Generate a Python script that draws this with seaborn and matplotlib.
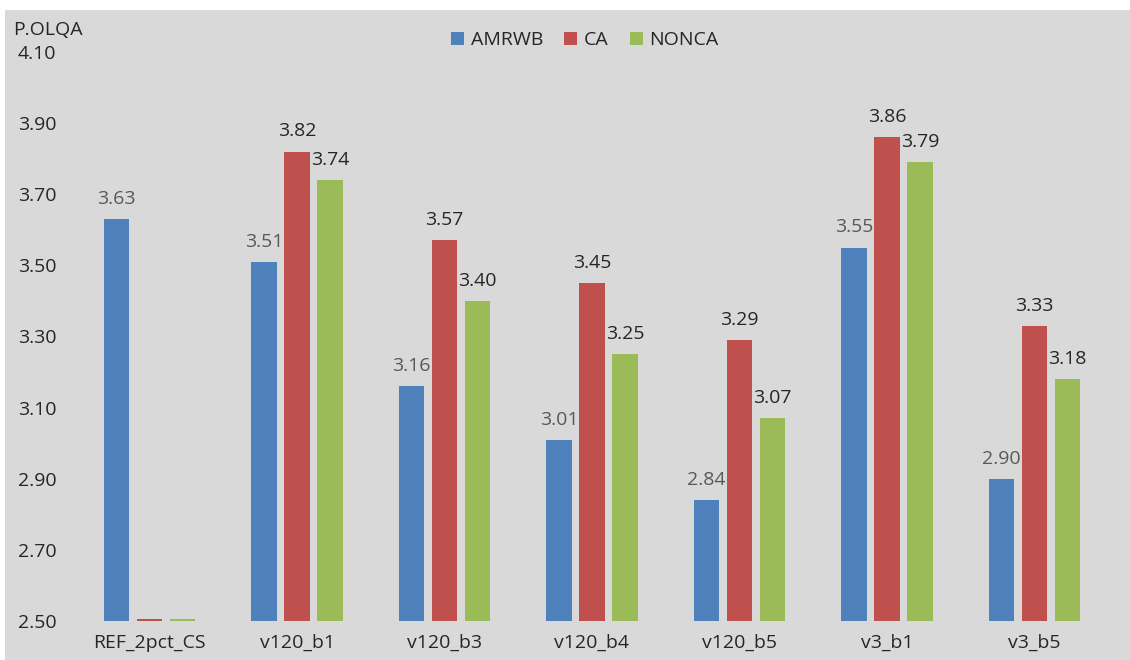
import matplotlib
matplotlib.use("Agg")
import matplotlib.pyplot as plt
import matplotlib.patches as mpatches
import seaborn as sns
import pandas as pd

categories = ["REF_2pct_CS", "v120_b1", "v120_b3", "v120_b4", "v120_b5", "v3_b1", "v3_b5"]
amrwb = [3.63, 3.51, 3.16, 3.01, 2.84, 3.55, 2.90]
ca = [2.505, 3.82, 3.57, 3.45, 3.29, 3.86, 3.33]
nonca = [2.505, 3.74, 3.40, 3.25, 3.07, 3.79, 3.18]
series = ["AMRWB", "CA", "NONCA"]
colors = ["#4F81BD", "#C0504D", "#9BBB59"]
label_colors = ["#595959", "#262626", "#262626"]
yticks = [2.50, 2.70, 2.90, 3.10, 3.30, 3.50, 3.70, 3.90, 4.10]

rows = []
for s, vals in zip(series, [amrwb, ca, nonca]):
    for c, v in zip(categories, vals):
        rows.append({"cat": c, "series": s, "value": v})
df = pd.DataFrame(rows)

sns.set_theme(style="white")
plt.rcParams["font.family"] = ["Open Sans", "DejaVu Sans"]

fig = plt.figure(figsize=(11.3, 6.6), dpi=100)
fig.patch.set_facecolor("white")
bg = mpatches.Rectangle((5 / 1130, 0), 1 - 5 / 1130, 1 - 10 / 660, transform=fig.transFigure,
                        facecolor="#D9D9D9", edgecolor="none", zorder=-10)
fig.patches.append(bg)

ax = fig.add_axes([76 / 1130, 1 - 621 / 660, (1108 - 76) / 1130, (621 - 52) / 660])
ax.set_facecolor("none")

sns.barplot(data=df, x="cat", y="value", hue="series", order=categories, hue_order=series,
            palette=colors, width=0.672, gap=0.23, ax=ax, legend=False,
            saturation=1, errorbar=None, linewidth=0)

ax.set_ylim(2.50, 4.10)
ax.set_yticks(yticks)
ax.set_yticklabels([f"{t:.2f}" for t in yticks])
ax.set_xlabel("")
ax.set_ylabel("")
for sp in ax.spines.values():
    sp.set_visible(False)
ax.tick_params(axis="y", length=0, pad=14, labelsize=14, labelcolor="#262626")
ax.tick_params(axis="x", length=0, pad=9, labelsize=14, labelcolor="#262626")

for i, cont in enumerate(ax.containers):
    labels = []
    vals = [amrwb, ca, nonca][i]
    for j, v in enumerate(vals):
        labels.append("" if (i > 0 and j == 0) else f"{v:.2f}")
    ax.bar_label(cont, labels=labels, padding=8, fontsize=14, color=label_colors[i])

handles = [mpatches.Patch(facecolor=c, edgecolor="none") for c in colors]
fig.legend(handles, series, loc="center", bbox_to_anchor=(585 / 1130, 1 - 40 / 660), ncol=3,
           frameon=False, fontsize=14, handlelength=0.65, handleheight=0.65, handletextpad=0.35,
           columnspacing=1.1)

fig.text(13 / 1130, 1 - 30 / 660, "P.OLQA", fontsize=14, color="#262626", va="center", ha="left")

fig.savefig("out.png", dpi=100)
